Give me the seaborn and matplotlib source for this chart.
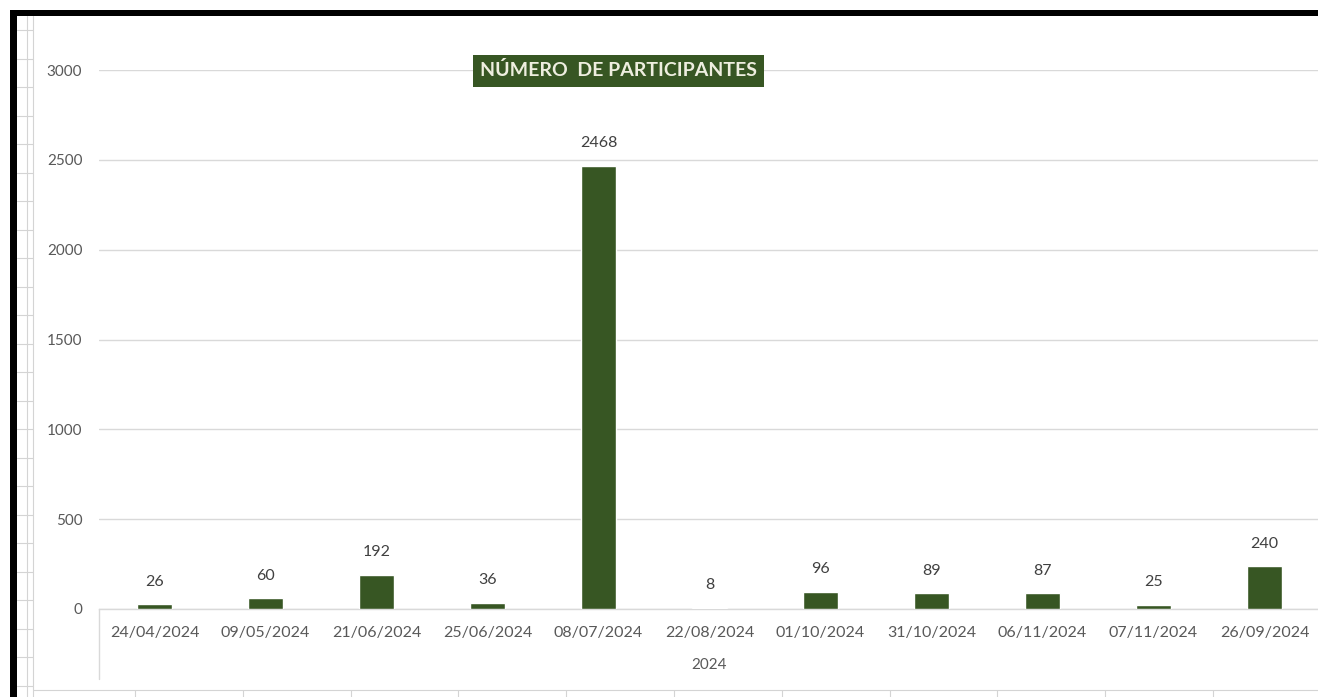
import matplotlib
matplotlib.use("Agg")
import matplotlib.pyplot as plt
import seaborn as sns
import pandas as pd
from matplotlib.lines import Line2D
from matplotlib.patches import Rectangle

datas = ['24/04/2024', '09/05/2024', '21/06/2024', '25/06/2024', '08/07/2024',
         '22/08/2024', '01/10/2024', '31/10/2024', '06/11/2024', '07/11/2024',
         '26/09/2024']
participantes = [26, 60, 192, 36, 2468, 8, 96, 89, 87, 25, 240]
yticks = [0, 500, 1000, 1500, 2000, 2500, 3000]
grupo = '2024'
titulo = 'NÚMERO  DE PARTICIPANTES'

df = pd.DataFrame({'Data': datas, 'Participantes': participantes})

sns.set_theme(style='white')
plt.rcParams['font.family'] = ['Lato', 'DejaVu Sans']

W, H = 1318, 697
fig = plt.figure(figsize=(W / 100, H / 100), dpi=100)
fig.patch.set_facecolor('white')


def fx(px):
    return px / W


def fy(py):
    return 1 - py / H


grid_c = '#D4D4D4'
# planilha ao fundo
fig.add_artist(Line2D([fx(27), fx(27)], [fy(16), 0], color=grid_c, lw=0.8))
fig.add_artist(Line2D([fx(33), fx(33)], [fy(16), 0], color=grid_c, lw=0.8))
for k in range(24):
    yy = 30 + 28.5 * k
    fig.add_artist(Line2D([fx(17), fx(33)], [fy(yy), fy(yy)], color=grid_c, lw=0.8))
fig.add_artist(Line2D([fx(33), 1], [fy(690), fy(690)], color=grid_c, lw=0.8))
for k in range(11):
    xx = 135 + 107.8 * k
    fig.add_artist(Line2D([fx(xx), fx(xx)], [fy(690), 0], color=grid_c, lw=0.8))
# moldura preta
fig.add_artist(Rectangle((fx(10), 0), fx(7), fy(10), color='black', lw=0))
fig.add_artist(Rectangle((fx(10), fy(16)), 1, fy(10) - fy(16), color='black', lw=0))

ax = fig.add_axes([fx(99), fy(609), fx(1320) - fx(99), fy(70) - fy(609)])
ax.set_facecolor('none')

sns.barplot(data=df, x='Data', y='Participantes', color='#375623',
            width=0.315, saturation=1, ax=ax, zorder=3)

ax.set_ylim(0, 3000)
ax.set_xlim(-0.5, len(datas) - 0.5)
ax.set_yticks(yticks)
ax.set_yticklabels([str(v) for v in yticks], fontsize=11, color='#595959')
ax.yaxis.grid(True, color='#D9D9D9', lw=1)
ax.set_axisbelow(True)
ax.tick_params(axis='y', length=0, pad=12)
ax.tick_params(axis='x', length=0, pad=12, labelsize=11.5, labelcolor='#595959')
ax.set_xlabel('')
ax.set_ylabel('')
for s in ['top', 'right', 'left']:
    ax.spines[s].set_visible(False)
ax.spines['bottom'].set_color('#D9D9D9')
ax.spines['bottom'].set_linewidth(1)

ax.bar_label(ax.containers[0], labels=[str(v) for v in participantes],
             padding=11, fontsize=11.5, color='#404040')

# eixo de categorias em dois níveis
ax.add_artist(Line2D([0, 0], [0, -0.13], transform=ax.transAxes,
                     color='#D9D9D9', lw=1, clip_on=False))
ax.text(0.5, -0.104, grupo, transform=ax.transAxes, ha='center', va='center',
        fontsize=11, color='#595959')

fig.text(fx(618), fy(70.5), titulo, ha='center', va='center', fontsize=14,
         fontweight='bold', color='#EEEEDF',
         bbox=dict(boxstyle='square,pad=0.36', facecolor='#375623', edgecolor='none'))

fig.savefig('out.png', dpi=100)
